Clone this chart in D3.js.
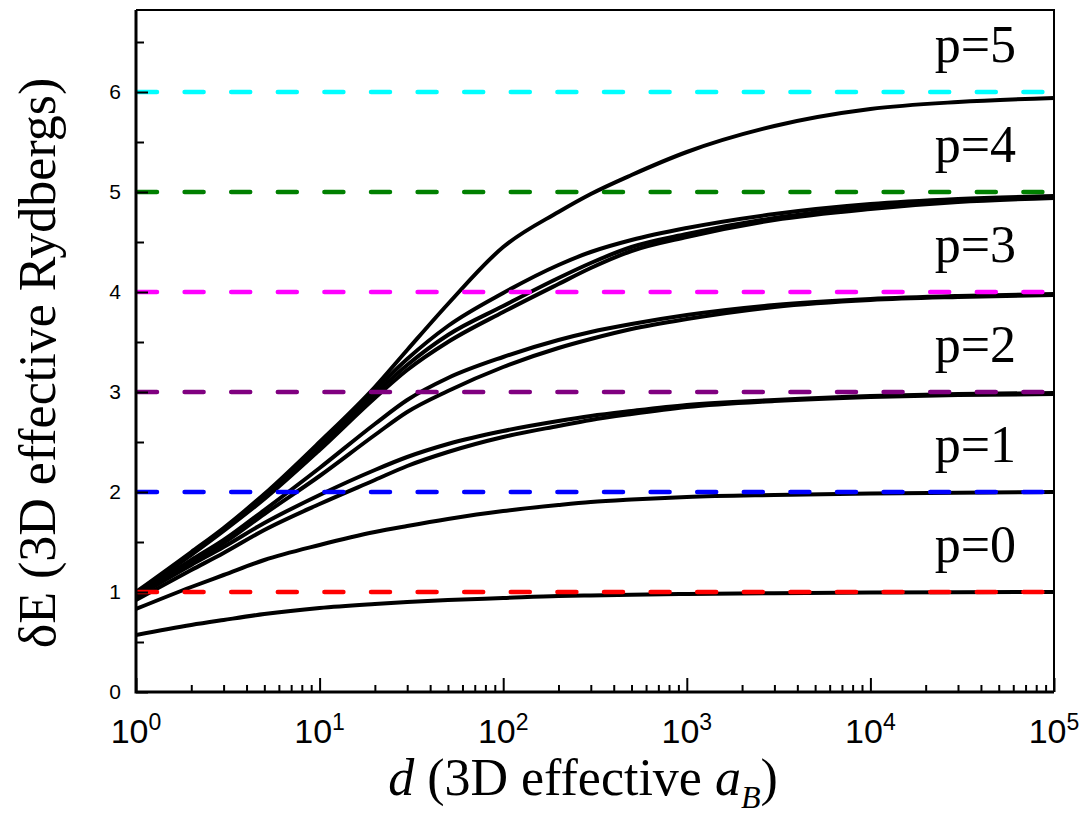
<!DOCTYPE html>
<html>
<head>
<meta charset="utf-8">
<script src="https://cdn.jsdelivr.net/npm/d3@7"></script>
<style>
  body { margin: 0; background: #fff; }
  svg { display: block; }
</style>
</head>
<body>
<div id="chart"></div>
<script>
// separation d (3D effective a_B) where curves are sampled
const dValues = [1, 2, 3, 5, 10, 20, 30, 50, 100, 200, 300, 500, 1000, 3000, 10000, 30000, 100000];

// energy curves (3D effective Rydbergs)
const curveP0 = [0.57, 0.67, 0.72, 0.78, 0.84, 0.88, 0.90, 0.92, 0.94, 0.96, 0.965, 0.973, 0.98, 0.988, 0.994, 0.997, 1.0];
const curveP1 = [0.83, 1.05, 1.17, 1.32, 1.47, 1.60, 1.66, 1.73, 1.81, 1.87, 1.90, 1.925, 1.95, 1.97, 1.985, 1.993, 2.0];
const curveP2a = [0.95, 1.27, 1.45, 1.69, 1.97, 2.22, 2.35, 2.48, 2.61, 2.71, 2.76, 2.81, 2.87, 2.92, 2.96, 2.98, 2.99];
const curveP2b = [0.92, 1.22, 1.39, 1.62, 1.88, 2.12, 2.26, 2.40, 2.55, 2.66, 2.72, 2.78, 2.85, 2.91, 2.95, 2.97, 2.98];
const curveP3a = [0.97, 1.32, 1.52, 1.82, 2.24, 2.68, 2.92, 3.14, 3.35, 3.52, 3.60, 3.68, 3.77, 3.87, 3.93, 3.96, 3.98];
const curveP3b = [0.96, 1.30, 1.49, 1.78, 2.16, 2.57, 2.80, 3.01, 3.25, 3.44, 3.53, 3.63, 3.73, 3.85, 3.92, 3.95, 3.97];
const curveP4a = [0.99, 1.39, 1.63, 1.97, 2.48, 3.02, 3.33, 3.66, 3.99, 4.27, 4.40, 4.52, 4.64, 4.78, 4.88, 4.93, 4.96];
const curveP4b = [0.98, 1.38, 1.62, 1.95, 2.45, 2.98, 3.27, 3.57, 3.86, 4.14, 4.29, 4.45, 4.58, 4.74, 4.85, 4.91, 4.95];
const curveP4c = [0.98, 1.37, 1.61, 1.93, 2.42, 2.94, 3.22, 3.50, 3.80, 4.08, 4.24, 4.41, 4.55, 4.72, 4.83, 4.90, 4.94];
const curveP5 = [1.0, 1.40, 1.64, 1.98, 2.50, 3.05, 3.42, 3.88, 4.45, 4.80, 4.98, 5.17, 5.40, 5.66, 5.83, 5.90, 5.94];

const levelValues = [1, 2, 3, 4, 5, 6];
const levelColors = ['#ff0000', '#0000ff', '#800080', '#ff00ff', '#008000', '#00ffff'];
const levelLabels = ['p=0', 'p=1', 'p=2', 'p=3', 'p=4', 'p=5'];

const xMajorTicks = [1, 10, 100, 1000, 10000, 100000];
const xExponents = ['0', '1', '2', '3', '4', '5'];
const yMajorTicks = [0, 1, 2, 3, 4, 5, 6];
const yMinorTicks = [0.5, 1.5, 2.5, 3.5, 4.5, 5.5, 6.5];

const curves = [curveP0, curveP1, curveP2a, curveP2b, curveP3a, curveP3b,
  curveP4a, curveP4b, curveP4c, curveP5];

const width = 1080;
const height = 819;
const plotLeft = 136, plotRight = 1054, plotTop = 10, plotBottom = 692;

const svg = d3.select('#chart')
  .append('svg')
  .attr('width', width)
  .attr('height', height);

const x = d3.scaleLog().domain([1, 100000]).range([plotLeft, plotRight]);
const y = d3.scaleLinear().domain([0, 6.82]).range([plotBottom, plotTop]);

const xMinorTicks = [];
xMajorTicks.slice(0, -1).forEach((t) => {
  for (let k = 2; k <= 9; k++) xMinorTicks.push(t * k);
});

svg.append('clipPath')
  .attr('id', 'plot-clip')
  .append('rect')
  .attr('x', plotLeft)
  .attr('y', plotTop)
  .attr('width', plotRight - plotLeft)
  .attr('height', plotBottom - plotTop);

const plot = svg.append('g').attr('clip-path', 'url(#plot-clip)');

const line = d3.line()
  .x((d) => x(d[0]))
  .y((d) => y(d[1]))
  .curve(d3.curveMonotoneX);

plot.selectAll('path.curve')
  .data(curves)
  .enter()
  .append('path')
  .attr('class', 'curve')
  .attr('fill', 'none')
  .attr('stroke', '#000')
  .attr('stroke-width', 4)
  .attr('d', (c) => line(c.map((v, i) => [dValues[i], v])));

plot.selectAll('line.level')
  .data(levelValues)
  .enter()
  .append('line')
  .attr('class', 'level')
  .attr('x1', plotLeft + 2)
  .attr('x2', plotRight - 8)
  .attr('y1', (d) => y(d))
  .attr('y2', (d) => y(d))
  .attr('stroke', (d, i) => levelColors[i])
  .attr('stroke-width', 4.5)
  .attr('stroke-linecap', 'round')
  .attr('stroke-dasharray', '19 27.6');

// p labels
svg.selectAll('text.plabel')
  .data(levelLabels)
  .enter()
  .append('text')
  .attr('class', 'plabel')
  .attr('x', 1016)
  .attr('y', (d, i) => y(levelValues[i]) - 30)
  .attr('text-anchor', 'end')
  .attr('font-family', '"Liberation Serif", "Times New Roman", serif')
  .attr('font-size', '52px')
  .text((d) => d);

// x axis
const xAxisMajor = d3.axisBottom(x).tickValues(xMajorTicks).tickSize(-14).tickSizeOuter(0).tickFormat('');
const xAxisMinor = d3.axisBottom(x).tickValues(xMinorTicks).tickSize(-7).tickSizeOuter(0).tickFormat('');

svg.append('g').attr('transform', `translate(0,${plotBottom})`).call(xAxisMinor)
  .call((g) => g.select('.domain').remove())
  .selectAll('line').attr('stroke-width', 2);
svg.append('g').attr('transform', `translate(0,${plotBottom})`).call(xAxisMajor)
  .call((g) => g.select('.domain').remove())
  .selectAll('line').attr('stroke-width', 2);

const xLabels = svg.selectAll('text.xtick')
  .data(xMajorTicks)
  .enter()
  .append('text')
  .attr('class', 'xtick')
  .attr('x', (d) => x(d))
  .attr('y', 743)
  .attr('text-anchor', 'middle')
  .attr('font-family', '"Liberation Sans", Arial, sans-serif')
  .attr('font-size', '34px');
xLabels.append('tspan').text('10');
xLabels.append('tspan')
  .attr('dy', -13)
  .attr('font-size', '23px')
  .text((d, i) => xExponents[i]);

// y axis
const yAxisMajor = d3.axisLeft(y).tickValues(yMajorTicks).tickSize(-12).tickSizeOuter(0)
  .tickPadding(15).tickFormat(d3.format('d'));
const yAxisMinor = d3.axisLeft(y).tickValues(yMinorTicks).tickSize(-8).tickSizeOuter(0).tickFormat('');

svg.append('g').attr('transform', `translate(${plotLeft},0)`).call(yAxisMinor)
  .call((g) => g.select('.domain').remove())
  .selectAll('line').attr('stroke-width', 2);
svg.append('g').attr('transform', `translate(${plotLeft},0)`).call(yAxisMajor)
  .call((g) => g.select('.domain').remove())
  .call((g) => g.selectAll('line').attr('stroke-width', 2))
  .selectAll('text')
  .attr('font-family', '"Liberation Sans", Arial, sans-serif')
  .attr('font-size', '21px')
  .attr('fill', '#000');

// frame
svg.append('path')
  .attr('d', `M${plotLeft},${plotTop}H${plotRight}V${plotBottom}`)
  .attr('fill', 'none')
  .attr('stroke', '#000')
  .attr('stroke-width', 2);
svg.append('path')
  .attr('d', `M${plotLeft},${plotTop}V${plotBottom}H${plotRight}`)
  .attr('fill', 'none')
  .attr('stroke', '#000')
  .attr('stroke-width', 3);

// axis titles
const xTitle = svg.append('text')
  .attr('x', (plotLeft + plotRight) / 2 - 12)
  .attr('y', 795)
  .attr('text-anchor', 'middle')
  .attr('font-family', '"Liberation Serif", "Times New Roman", serif')
  .attr('font-size', '52px');
xTitle.append('tspan').attr('font-style', 'italic').text('d');
xTitle.append('tspan').text(' (3D effective ');
xTitle.append('tspan').attr('font-style', 'italic').text('a');
xTitle.append('tspan').attr('font-style', 'italic').attr('font-size', '32px').attr('dy', 13).text('B');
xTitle.append('tspan').attr('dy', -13).text(')');

svg.append('text')
  .attr('transform', 'translate(55,363) rotate(-90)')
  .attr('text-anchor', 'middle')
  .attr('font-family', '"Liberation Serif", "Times New Roman", serif')
  .attr('font-size', '52px')
  .text('δE (3D effective Rydbergs)');
</script>
</body>
</html>
